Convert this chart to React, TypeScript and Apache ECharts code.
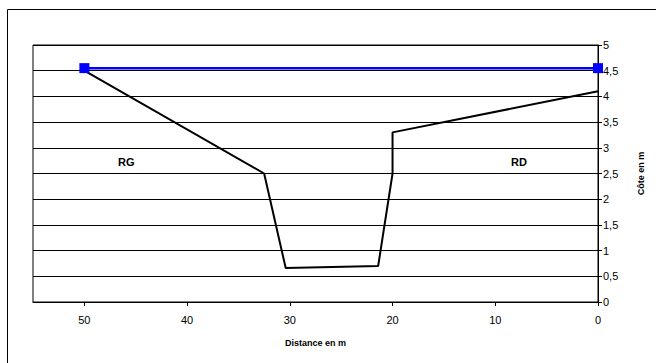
import React, { useEffect, useRef } from "react";
import * as echarts from "echarts";

const profileX = [50, 32.5, 30.4, 21.4, 20, 20, 0];
const profileY = [4.5, 2.5, 0.66, 0.7, 2.5, 3.3, 4.1];
const waterX = [50, 0];
const waterY = [4.55, 4.55];
const bankLabels = [
  { text: "RG", x: 118, y: 162 },
  { text: "RD", x: 511, y: 162 },
];

export default function App() {
  const ref = useRef<HTMLDivElement>(null);
  useEffect(() => {
    if (!ref.current) return;
    const chart = echarts.init(ref.current, null, { renderer: "svg" });
    const font = "Liberation Sans, Arial, sans-serif";
    chart.setOption({
      animation: false,
      backgroundColor: "#fff",
      grid: {
        left: 33,
        top: 45,
        right: 58,
        bottom: 61,
        show: true,
        borderColor: "#000",
        borderWidth: 1,
        backgroundColor: "transparent",
      },
      xAxis: {
        type: "value",
        inverse: true,
        min: 0,
        max: 55,
        interval: 10,
        name: "Distance en m",
        nameLocation: "middle",
        nameGap: 36,
        nameTextStyle: { fontFamily: font, fontSize: 9, fontWeight: "bold", color: "#000" },
        axisLine: { show: true, lineStyle: { color: "#000", width: 1 } },
        axisTick: { show: true, length: 4, lineStyle: { color: "#000" } },
        axisLabel: {
          fontFamily: font,
          fontSize: 11,
          color: "#000",
          margin: 12,
          showMaxLabel: false,
        },
        splitLine: { show: false },
      },
      yAxis: {
        type: "value",
        position: "right",
        min: 0,
        max: 5,
        interval: 0.5,
        name: "Côte en m",
        nameLocation: "middle",
        nameRotate: 90,
        nameGap: 38,
        nameTextStyle: { fontFamily: font, fontSize: 9, fontWeight: "bold", color: "#000" },
        axisLine: { show: true, lineStyle: { color: "#000", width: 1 } },
        axisTick: { show: true, length: 4, lineStyle: { color: "#000" } },
        axisLabel: {
          fontFamily: font,
          fontSize: 11,
          color: "#000",
          margin: 5,
          formatter: (v: number) => String(v).replace(".", ","),
        },
        splitLine: { show: true, lineStyle: { color: "#000", width: 1 } },
      },
      series: [
        {
          type: "line",
          data: profileX.map((x, i) => [x, profileY[i]]),
          showSymbol: false,
          symbol: "none",
          lineStyle: { color: "#000", width: 2 },
          z: 2,
        },
        {
          type: "line",
          data: waterX.map((x, i) => [x, waterY[i]]),
          symbol: "rect",
          symbolSize: 10,
          itemStyle: { color: "#0000ff" },
          lineStyle: { color: "#0000ff", width: 2.5 },
          z: 3,
        },
      ],
      graphic: [
        {
          type: "rect",
          shape: { x: 7.5, y: 9.5, width: 700, height: 400 },
          style: { fill: "none", stroke: "#000", lineWidth: 1 },
          silent: true,
        },
        ...bankLabels.map((b) => ({
          type: "text",
          x: b.x,
          y: b.y,
          style: {
            text: b.text,
            fontFamily: font,
            fontSize: 11,
            fontWeight: "bold",
            fill: "#000",
            verticalAlign: "middle",
          },
        })),
      ],
    });
    return () => chart.dispose();
  }, []);
  return (
    <div
      ref={ref}
      style={{ position: "fixed", left: 0, top: 0, width: 656, height: 363 }}
    />
  );
}
